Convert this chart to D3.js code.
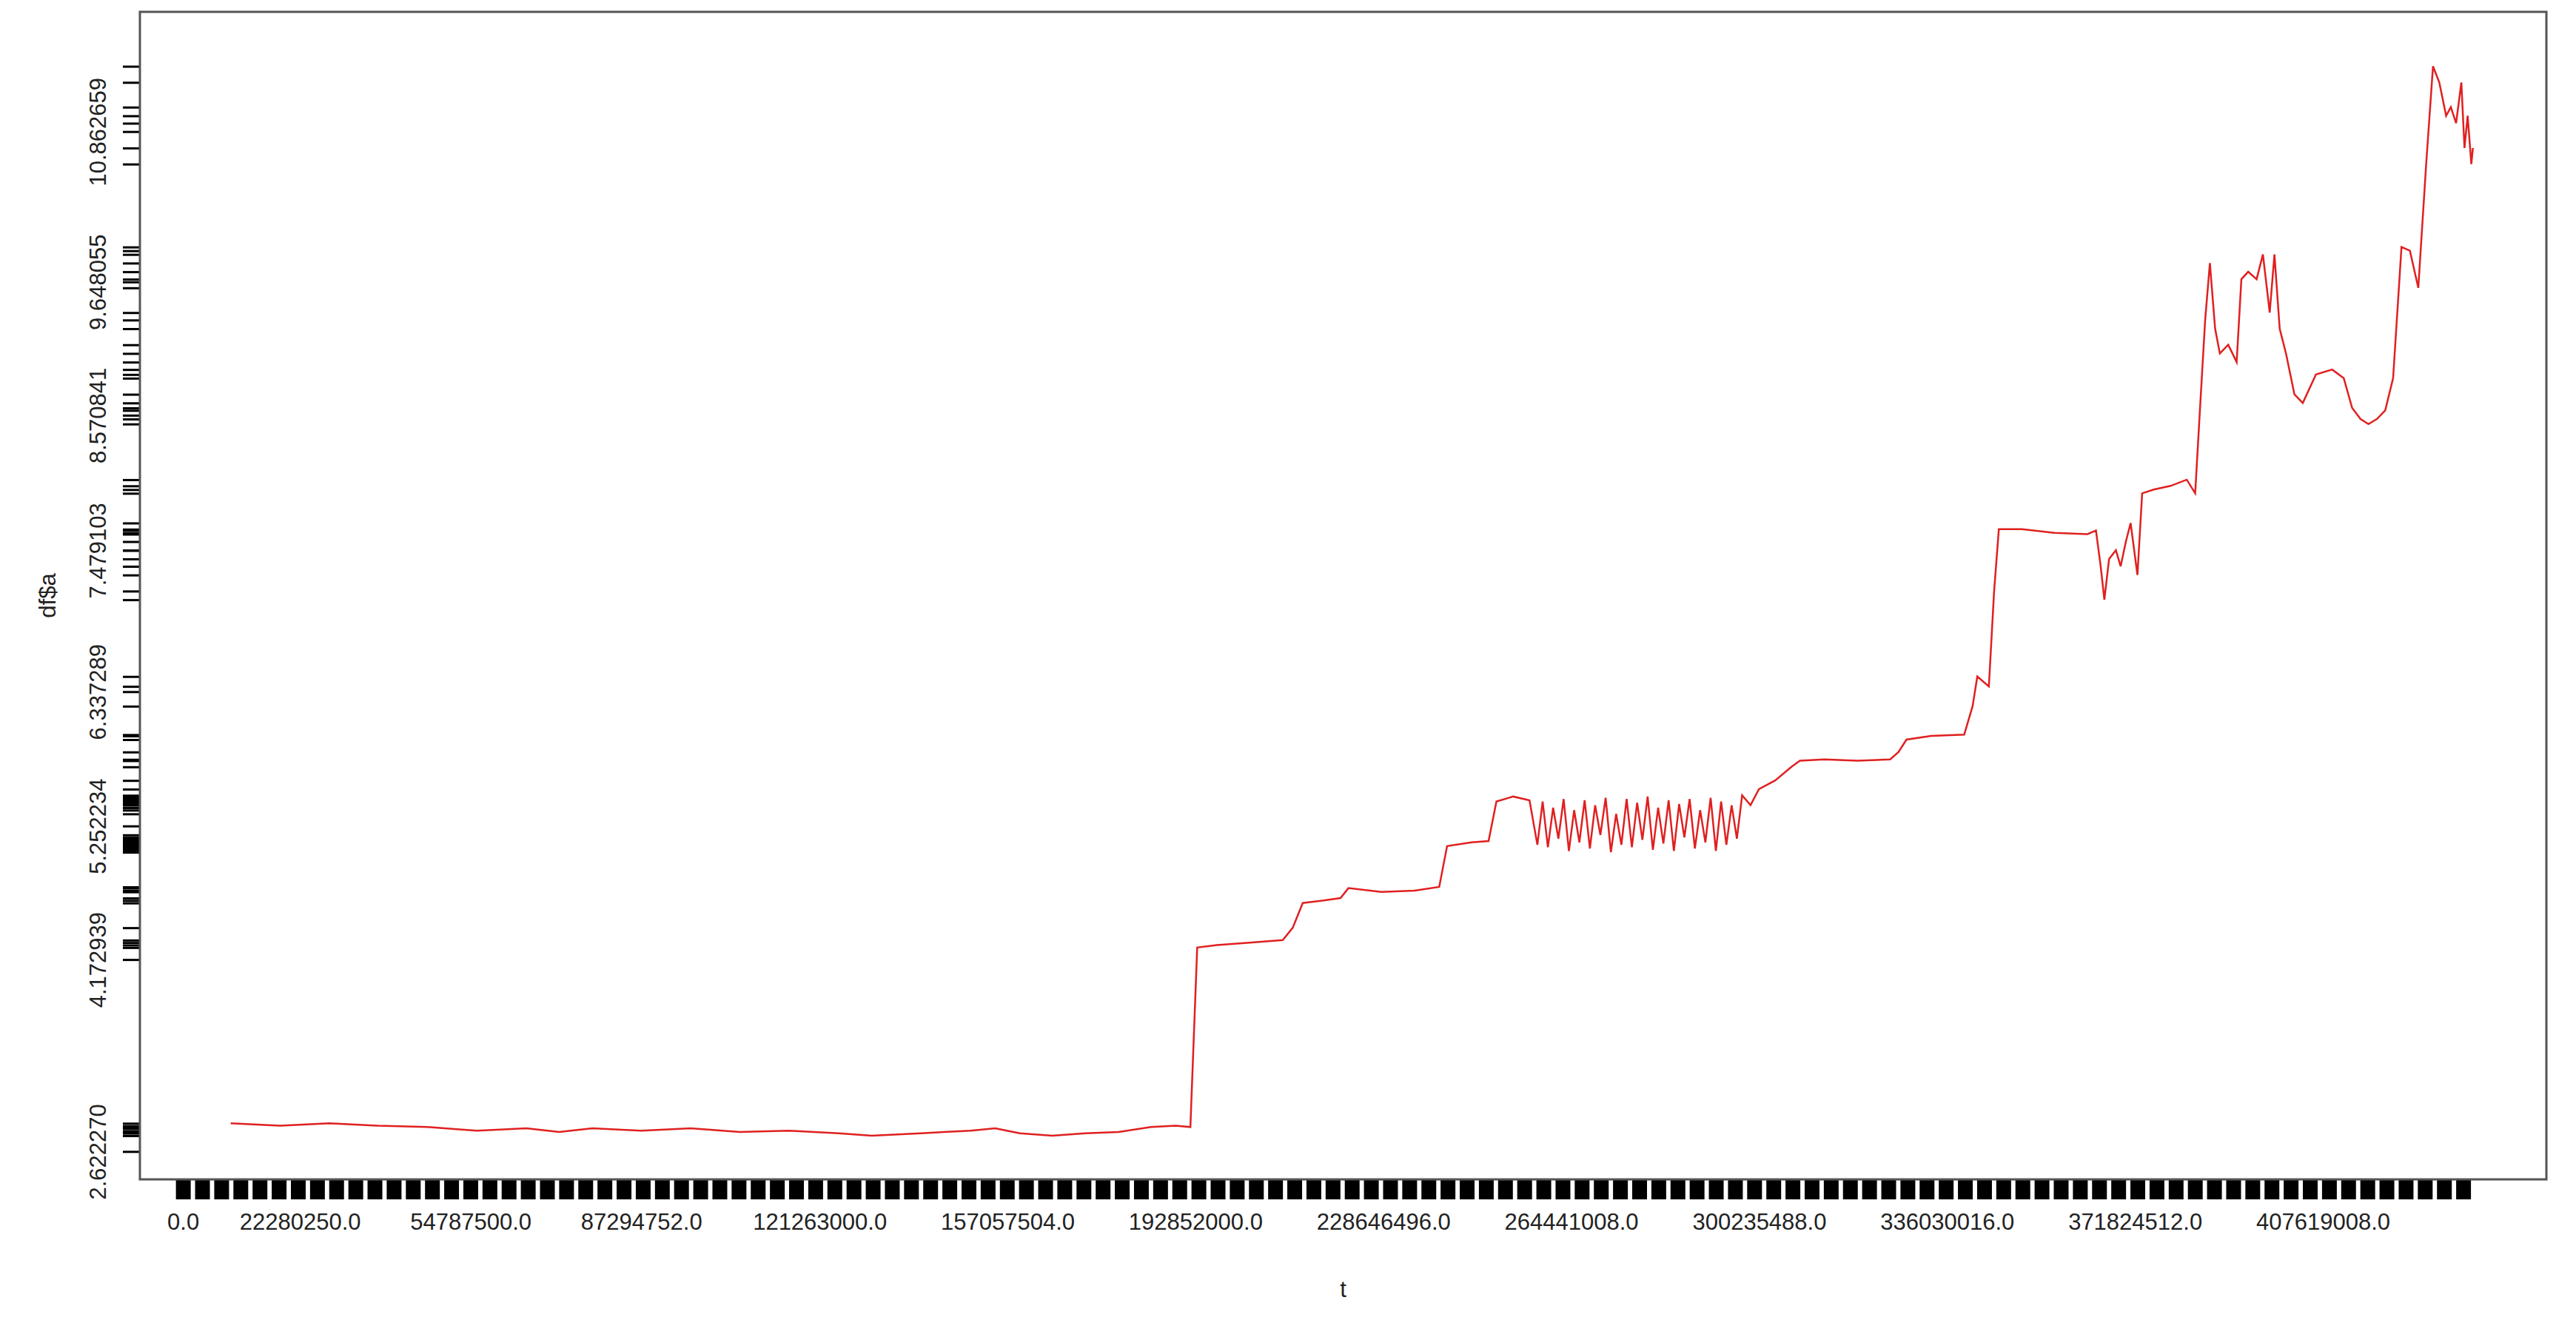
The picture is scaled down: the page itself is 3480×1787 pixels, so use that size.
<!DOCTYPE html>
<html><head><meta charset="utf-8">
<script src="https://cdn.jsdelivr.net/npm/d3@7"></script>
<style>body{margin:0;background:#fff}svg{display:block}</style>
</head><body>
<script>
// time in millions
const tM = [9.1,18.5,27.9,37.3,46.6,56.0,65.4,71.7,78.0,87.3,96.7,106.1,115.5,124.9,131.2,140.6,150.0,154.7,159.4,165.6,171.9,178.2,184.4,189.1,191.9,
193.2,197.0,203.2,209.5,211.4,213.3,217.3,220.5,222.0,228.3,234.6,239.3,240.8,245.5,248.7,250.2,253.4,256.5,
258,259,260,261,262,263,264,265,266,267,268,269,270,271,272,273,274,275,276,277,278,279,280,281,282,283,284,285,286,287,288,289,290,291,292,293,294,295,296,297,
298.6,300.2,303.3,306.4,308.0,312.7,319.0,325.2,326.8,328.3,333.0,339.3,340.9,341.8,344.0,345.0,345.9,350.3,356.5,362.8,364.4,365.3,366.0,366.9,368.2,369.1,370.1,371.0,372.3,373.2,375.4,378.6,381.7,383.3,384.2,385.2,386.1,387.1,388.0,389.6,391.2,392.1,393.4,395.0,396.2,397.5,398.4,399.4,400.6,402.2,403.8,406.3,409.4,411.6,413.2,414.8,416.3,417.9,419.5,421.0,422.6,424.2,425.8,427.3,428.6,429.8,431.1,432.0,433.0,434.0,434.6,435.2,435.9,436.2];
const a = [2.85,2.83,2.85,2.83,2.82,2.79,2.81,2.78,2.81,2.79,2.81,2.78,2.79,2.77,2.75,2.77,2.79,2.81,2.77,2.75,2.77,2.78,2.82,2.83,2.82,
4.27,4.29,4.31,4.33,4.43,4.63,4.65,4.67,4.75,4.72,4.73,4.76,5.09,5.12,5.13,5.45,5.49,5.46,
5.10,5.45,5.08,5.40,5.15,5.47,5.05,5.38,5.12,5.46,5.07,5.42,5.18,5.48,5.04,5.35,5.10,5.47,5.08,5.44,5.14,5.49,5.06,5.40,5.11,5.46,5.05,5.43,5.16,5.47,5.07,5.38,5.12,5.48,5.05,5.45,5.10,5.42,5.15,5.50,
5.42,5.55,5.62,5.73,5.78,5.79,5.78,5.79,5.85,5.95,5.98,5.99,6.22,6.46,6.38,7.15,7.65,7.65,7.62,7.61,7.64,7.35,7.08,7.41,7.48,7.35,7.55,7.70,7.28,7.94,7.97,8.00,8.05,7.94,8.61,9.34,9.80,9.27,9.07,9.14,9.00,9.67,9.73,9.67,9.87,9.40,9.87,9.27,9.07,8.74,8.67,8.90,8.94,8.87,8.63,8.54,8.50,8.54,8.61,8.87,9.93,9.90,9.60,10.60,11.39,11.26,10.99,11.06,10.93,11.26,10.73,10.99,10.60,10.73];
const xLabels = [0, 22280250, 54787500, 87294752, 121263000, 157057504, 192852000, 228646496, 264441008, 300235488, 336030016, 371824512, 407619008];
const yLabels = [2.622270, 4.172939, 5.252234, 6.337289, 7.479103, 8.570841, 9.648055, 10.862659];

const W = 3480, H = 1787;
const L = 189, R = 3440, T = 16, B = 1593;
const t = tM.map(d => d * 1e6);
const svg = d3.select("body").append("svg").attr("width", W).attr("height", H);
const x = d3.scaleLinear().domain([-8.2e6, 450.2e6]).range([L, R]);
const y = d3.scaleLinear().domain([2.397, 11.83]).range([B, T]);
const font = "Liberation Sans, Arial, sans-serif";

const rug = d3.range(0, 436.4e6, 3.65e6);
svg.append("g").attr("transform", `translate(0,${B})`)
  .call(d3.axisBottom(x).tickValues(rug).tickSize(27).tickFormat(""))
  .call(g => g.select(".domain").remove())
  .call(g => g.selectAll("line").attr("stroke", "#000").attr("stroke-width", 20));
svg.append("g").attr("transform", `translate(0,${B})`)
  .call(d3.axisBottom(x).tickValues(xLabels).tickSize(0).tickPadding(46).tickFormat(d => d.toFixed(1)))
  .call(g => g.select(".domain").remove())
  .call(g => g.selectAll("text").attr("font-size", 31).attr("font-family", font).attr("fill", "#222"));

const yr = Array.from(new Set(a.concat(yLabels)));
svg.append("g").attr("transform", `translate(${L},0)`)
  .call(d3.axisLeft(y).tickValues(yr).tickSize(23).tickFormat(""))
  .call(g => g.select(".domain").remove())
  .call(g => g.selectAll("line").attr("stroke", "#000").attr("stroke-width", 3));
const yl = svg.append("g").attr("transform", `translate(${L},0)`)
  .call(d3.axisLeft(y).tickValues(yLabels).tickSize(0).tickPadding(0).tickFormat(d => d.toFixed(6)))
  .call(g => g.select(".domain").remove());
yl.selectAll("text").attr("font-size", 31).attr("font-family", font).attr("fill", "#222")
  .attr("text-anchor", "middle").attr("x", 0).attr("dy", 0)
  .attr("transform", `translate(-46,0) rotate(-90)`);

svg.append("rect").attr("x", L).attr("y", T).attr("width", R - L).attr("height", B - T)
  .attr("fill", "none").attr("stroke", "#555").attr("stroke-width", 3);

svg.append("path").datum(t.map((d, i) => [d, a[i]]))
  .attr("d", d3.line().x(d => x(d[0])).y(d => y(d[1])))
  .attr("fill", "none").attr("stroke", "#e02020").attr("stroke-width", 2.5);

svg.append("text").attr("x", (L + R) / 2).attr("y", 1752).attr("text-anchor", "middle")
  .attr("font-size", 31).attr("font-family", font).attr("fill", "#222").text("t");
svg.append("text").attr("transform", `translate(75,${(T + B) / 2}) rotate(-90)`).attr("text-anchor", "middle")
  .attr("font-size", 31).attr("font-family", font).attr("fill", "#222").text("df$a");
</script>
</body></html>
